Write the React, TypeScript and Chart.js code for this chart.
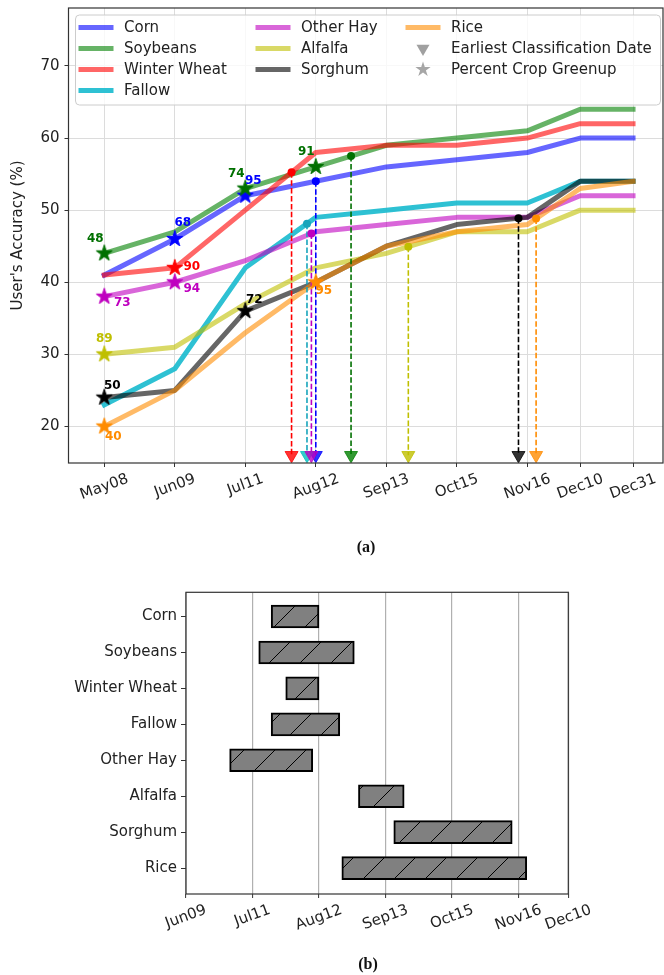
import React, { useEffect, useRef } from 'react';
import { Chart, registerables } from 'chart.js';

Chart.register(...registerables);

// Composite dates (day of year) and their axis labels
const COMPOSITE_DAYS = [128, 160, 192, 224, 256, 288, 320, 344, 368];
const COMPOSITE_LABELS = ['May08', 'Jun09', 'Jul11', 'Aug12', 'Sep13', 'Oct15', 'Nov16', 'Dec10', 'Dec31'];
const ACCURACY_TICKS = [20, 30, 40, 50, 60, 70];

const CROPS = ['Corn', 'Soybeans', 'Winter Wheat', 'Fallow', 'Other Hay', 'Alfalfa', 'Sorghum', 'Rice'];

// User's accuracy (%) at each composite date
const CORN = [41, 46, 52, 54, 56, 57, 58, 60, 60];
const SOYBEANS = [44, 47, 53, 56, 59, 60, 61, 64, 64];
const WINTER_WHEAT = [41, 42, 50, 58, 59, 59, 60, 62, 62];
const FALLOW = [23, 28, 42, 49, 50, 51, 51, 54, 54];
const OTHER_HAY = [38, 40, 43, 47, 48, 49, 49, 52, 52];
const ALFALFA = [30, 31, 37, 42, 44, 47, 47, 50, 50];
const SORGHUM = [24, 25, 36, 40, 45, 48, 49, 54, 54];
const RICE = [20, 25, 33, 40, 45, 47, 48, 53, 54];

// Percent crop greenup: [composite index, percent]
const GREENUP_CORN = [[1, 68], [2, 95]];
const GREENUP_SOYBEANS = [[0, 48], [2, 74], [3, 91]];
const GREENUP_WINTER_WHEAT = [[1, 90]];
const GREENUP_FALLOW: number[][] = [];
const GREENUP_OTHER_HAY = [[0, 73], [1, 94]];
const GREENUP_ALFALFA = [[0, 89]];
const GREENUP_SORGHUM = [[0, 50], [2, 72]];
const GREENUP_RICE = [[0, 40], [3, 95]];

// Earliest classification date (day of year) per crop
const EARLIEST_DAY = [224, 240, 213, 220, 222, 266, 316, 324];
const MARKER_BASE = 16;

// Growing-season window (day of year) per crop
const SEASON_START = [201, 195, 208, 201, 181, 243, 260, 235];
const SEASON_END = [224, 241, 224, 234, 221, 265, 317, 324];
const SEASON_TICK_DAYS = [160, 192, 224, 256, 288, 320, 344];
const SEASON_TICK_LABELS = ['Jun09', 'Jul11', 'Aug12', 'Sep13', 'Oct15', 'Nov16', 'Dec10'];

const SERIES = [CORN, SOYBEANS, WINTER_WHEAT, FALLOW, OTHER_HAY, ALFALFA, SORGHUM, RICE];
const GREENUP = [GREENUP_CORN, GREENUP_SOYBEANS, GREENUP_WINTER_WHEAT, GREENUP_FALLOW, GREENUP_OTHER_HAY, GREENUP_ALFALFA, GREENUP_SORGHUM, GREENUP_RICE];

// ---- styling ----
const LINE_COLORS = [
  'rgba(0,0,255,0.6)', 'rgba(0,128,0,0.6)', 'rgba(255,0,0,0.6)', 'rgba(23,186,206,0.9)',
  'rgba(191,0,191,0.6)', 'rgba(191,191,0,0.6)', 'rgba(0,0,0,0.6)', 'rgba(255,140,0,0.6)',
];
const MARK_COLORS = ['#0000ff', '#007000', '#ff0000', '#17a5bb', '#bf00bf', '#bfbf00', '#000000', '#ff8c00'];
const TRI_COLORS = [
  'rgba(0,0,255,0.8)', 'rgba(0,128,0,0.8)', 'rgba(255,0,0,0.8)', 'rgba(0,191,191,0.8)',
  'rgba(191,0,191,0.8)', 'rgba(191,191,0,0.8)', 'rgba(0,0,0,0.8)', 'rgba(255,140,0,0.8)',
];
// text offsets of greenup labels from their star, per crop
const LABEL_OFFSETS = [
  [[8, -16], [8, -15]],
  [[-9, -15], [-9, -15], [-9.5, -15]],
  [[17, -1]],
  [],
  [[18, 6.5], [17, 6.6]],
  [[0, -15]],
  [[8, -12], [9, -11]],
  [[9, 10], [8, 9]],
];
const SANS = '"DejaVu Sans", sans-serif';
const TEXT = '#222222';

function interp(series: number[], day: number) {
  for (let i = 0; i < COMPOSITE_DAYS.length - 1; i++) {
    const a = COMPOSITE_DAYS[i], b = COMPOSITE_DAYS[i + 1];
    if (day >= a && day <= b) return series[i] + (series[i + 1] - series[i]) * (day - a) / (b - a);
  }
  return series[series.length - 1];
}

function starPath(g: CanvasRenderingContext2D, cx: number, cy: number, R: number) {
  const r = R * 0.381;
  g.beginPath();
  for (let k = 0; k < 10; k++) {
    const rad = k % 2 === 0 ? R : r;
    const a = -Math.PI / 2 + k * Math.PI / 5;
    g.lineTo(cx + rad * Math.cos(a), cy + rad * Math.sin(a));
  }
  g.closePath();
}

function makeStar(color: string, R: number) {
  const size = Math.ceil(2 * R + 3);
  const c = document.createElement('canvas');
  c.width = size; c.height = size;
  const g = c.getContext('2d')!;
  starPath(g, size / 2, size / 2, R);
  g.fillStyle = color; g.fill();
  g.strokeStyle = color; g.lineWidth = 1; g.stroke();
  return c;
}

function makeHatch(ctx: CanvasRenderingContext2D) {
  const s = 31;
  const c = document.createElement('canvas');
  c.width = s; c.height = s;
  const g = c.getContext('2d')!;
  g.fillStyle = '#808080';
  g.fillRect(0, 0, s, s);
  g.strokeStyle = '#000';
  g.lineWidth = 1;
  g.beginPath();
  g.moveTo(-2, s + 2); g.lineTo(s + 2, -2);
  g.moveTo(-2, 2); g.lineTo(2, -2);
  g.moveTo(s - 2, s + 2); g.lineTo(s + 2, s - 2);
  g.stroke();
  return ctx.createPattern(c, 'repeat')!;
}

function drawRotatedTicks(chart: any, days: number[], labels: string[]) {
  const { ctx, chartArea } = chart;
  const x = chart.scales.x;
  const ang = 20 * Math.PI / 180;
  ctx.save();
  ctx.font = `15px ${SANS}`;
  ctx.fillStyle = TEXT;
  ctx.textAlign = 'center';
  ctx.textBaseline = 'middle';
  days.forEach((d, i) => {
    const px = x.getPixelForValue(d);
    const w = ctx.measureText(labels[i]).width;
    const H = w * Math.sin(ang) + 17 * Math.cos(ang);
    ctx.save();
    ctx.translate(px, chartArea.bottom + 7.5 + H / 2);
    ctx.rotate(-ang);
    ctx.fillText(labels[i], 0, 0);
    ctx.restore();
  });
  ctx.restore();
}

function drawFrame(chart: any) {
  const { ctx, chartArea: a } = chart;
  ctx.save();
  ctx.strokeStyle = '#333333';
  ctx.lineWidth = 1.2;
  ctx.strokeRect(a.left, a.top, a.right - a.left, a.bottom - a.top);
  ctx.restore();
}

function drawCaption(chart: any, text: string, x: number, y: number) {
  const ctx = chart.ctx;
  ctx.save();
  ctx.font = 'bold 16px "Liberation Serif", serif';
  ctx.fillStyle = '#111';
  ctx.textAlign = 'center';
  ctx.textBaseline = 'middle';
  ctx.fillText(text, x, y);
  ctx.restore();
}

const accuracyDecor = {
  id: 'accuracyDecor',
  afterDatasetsDraw(chart: any) {
    const ctx = chart.ctx;
    // greenup percent labels
    ctx.save();
    ctx.font = `bold 12px ${SANS}`;
    ctx.textAlign = 'center';
    ctx.textBaseline = 'middle';
    chart.data.datasets.forEach((ds: any, di: number) => {
      if (ds.greenupCrop === undefined) return;
      const crop = ds.greenupCrop;
      const meta = chart.getDatasetMeta(di);
      ctx.fillStyle = MARK_COLORS[crop];
      meta.data.forEach((pt: any, k: number) => {
        const [dx, dy] = LABEL_OFFSETS[crop][k];
        ctx.fillText(String(GREENUP[crop][k][1]), pt.x + dx, pt.y + dy);
      });
    });
    ctx.restore();
    drawFrame(chart);
  },
  afterDraw(chart: any) {
    const ctx = chart.ctx;
    drawRotatedTicks(chart, COMPOSITE_DAYS, COMPOSITE_LABELS);

    // y-axis title
    const a = chart.chartArea;
    ctx.save();
    ctx.font = `15px ${SANS}`;
    ctx.fillStyle = TEXT;
    ctx.textAlign = 'center';
    ctx.textBaseline = 'middle';
    ctx.translate(18, (a.top + a.bottom) / 2);
    ctx.rotate(-Math.PI / 2);
    ctx.fillText("User's Accuracy (%)", 0, 0);
    ctx.restore();

    // legend
    ctx.save();
    const bx = 75.5, by = 15, bw = 585, bh = 90;
    ctx.beginPath();
    ctx.roundRect(bx, by, bw, bh, 4);
    ctx.fillStyle = 'rgba(255,255,255,0.8)';
    ctx.fill();
    ctx.strokeStyle = '#cccccc';
    ctx.lineWidth = 1;
    ctx.stroke();
    const cols = [[0, 1, 2, 3], [4, 5, 6], [7, 'ecd', 'greenup']];
    const colX = [78.5, 255.5, 405.5];
    const rowY = [27.5, 48.5, 69.5, 90.5];
    ctx.font = `15px ${SANS}`;
    ctx.textBaseline = 'middle';
    ctx.textAlign = 'left';
    cols.forEach((col, ci) => {
      col.forEach((entry, ri) => {
        const x0 = colX[ci], y = rowY[ri];
        let label = '';
        if (typeof entry === 'number') {
          ctx.strokeStyle = LINE_COLORS[entry];
          ctx.lineWidth = 5;
          ctx.beginPath(); ctx.moveTo(x0, y); ctx.lineTo(x0 + 35, y); ctx.stroke();
          label = CROPS[entry];
        } else if (entry === 'ecd') {
          const cx = x0 + 17.5, r = 7.5;
          ctx.fillStyle = 'rgba(128,128,128,0.75)';
          ctx.beginPath();
          ctx.moveTo(cx, y + r);
          ctx.lineTo(cx - r * 0.866, y - r / 2);
          ctx.lineTo(cx + r * 0.866, y - r / 2);
          ctx.closePath(); ctx.fill();
          label = 'Earliest Classification Date';
        } else {
          ctx.fillStyle = 'rgba(128,128,128,0.7)';
          starPath(ctx, x0 + 17.5, y, 8);
          ctx.fill();
          label = 'Percent Crop Greenup';
        }
        ctx.fillStyle = TEXT;
        ctx.fillText(label, x0 + 45.5, y + 0.5);
      });
    });
    ctx.restore();

    drawCaption(chart, '(a)', 366, 548);
  },
};

const seasonDecor = {
  id: 'seasonDecor',
  afterDraw(chart: any) {
    drawFrame(chart);
    drawRotatedTicks(chart, SEASON_TICK_DAYS, SEASON_TICK_LABELS);
    drawCaption(chart, '(b)', 368, 405);
  },
};

// pin axis box sizes so the plot area lands exactly inside the layout padding
function fixedWidth(w: number) {
  return (scale: any) => {
    scale.width = w;
    scale.paddingTop = 0; scale.paddingBottom = 0;
  };
}
function fixedHeight(h: number) {
  return (scale: any) => {
    scale.height = h;
    scale.paddingLeft = 0; scale.paddingRight = 0;
  };
}

export default function App() {
  const topRef = useRef<HTMLCanvasElement>(null);
  const bottomRef = useRef<HTMLCanvasElement>(null);

  useEffect(() => {
    const datasets: any[] = [];
    SERIES.forEach((s, i) => {
      datasets.push({
        type: 'line',
        data: s.map((v, k) => ({ x: COMPOSITE_DAYS[k], y: v })),
        borderColor: LINE_COLORS[i],
        borderWidth: 5,
        pointRadius: 0,
        tension: 0,
        borderJoinStyle: 'round',
        borderCapStyle: 'square',
        order: 100 - i,
      });
    });
    SERIES.forEach((s, i) => {
      const day = EARLIEST_DAY[i];
      const y = interp(s, day);
      datasets.push({
        type: 'line',
        data: [{ x: day, y }, { x: day, y: MARKER_BASE }],
        borderColor: MARK_COLORS[i],
        borderWidth: 1.6,
        borderDash: [5.5, 2.4],
        pointRadius: 0,
        order: 60 - i,
      });
      datasets.push({
        type: 'line',
        showLine: false,
        data: [{ x: day, y }],
        pointRadius: 4,
        pointBackgroundColor: MARK_COLORS[i],
        pointBorderColor: MARK_COLORS[i],
        pointBorderWidth: 0,
        order: 40 - i,
      });
      datasets.push({
        type: 'line',
        showLine: false,
        data: [{ x: day, y: MARKER_BASE }],
        pointStyle: 'triangle',
        pointRotation: 180,
        pointRadius: 7.5,
        pointBackgroundColor: TRI_COLORS[i],
        pointBorderColor: TRI_COLORS[i],
        pointBorderWidth: 1,
        order: 30 - i,
      });
    });
    GREENUP.forEach((g, i) => {
      if (!g.length) return;
      datasets.push({
        type: 'line',
        showLine: false,
        greenupCrop: i,
        data: g.map(([k]) => ({ x: COMPOSITE_DAYS[k], y: SERIES[i][k] })),
        pointStyle: makeStar(MARK_COLORS[i], 8.5),
        pointRadius: 8,
        order: 10 - i,
      });
    });

    const top = new Chart(topRef.current!, {
      type: 'line',
      data: { datasets },
      plugins: [accuracyDecor],
      options: {
        animation: false,
        responsive: false,
        devicePixelRatio: 1,
        layout: { autoPadding: false, padding: { left: 0, top: 8, right: 1, bottom: 77 } },
        plugins: { legend: { display: false }, tooltip: { enabled: false } },
        scales: {
          x: {
            type: 'linear',
            min: 111.75,
            max: 381.6,
            offset: false,
            afterBuildTicks: (sc: any) => { sc.ticks = COMPOSITE_DAYS.map((v) => ({ value: v })); },
            afterFit: fixedHeight(20),
            ticks: { display: false },
            border: { display: false },
            grid: { color: '#dcdcdc', lineWidth: 1, tickLength: 4, tickColor: '#333', tickWidth: 1 },
          },
          y: {
            type: 'linear',
            min: 14.93,
            max: 78.04,
            afterBuildTicks: (sc: any) => { sc.ticks = ACCURACY_TICKS.map((v) => ({ value: v })); },
            afterFit: fixedWidth(68.5),
            ticks: { font: { family: SANS, size: 15 }, color: TEXT, padding: 5 },
            border: { display: false },
            grid: { color: '#dcdcdc', lineWidth: 1, tickLength: 4, tickColor: '#333', tickWidth: 1 },
          },
        },
      } as any,
    });

    const bctx = bottomRef.current!.getContext('2d')!;
    const hatch = makeHatch(bctx);
    const bottom = new Chart(bottomRef.current!, {
      type: 'bar',
      data: {
        datasets: [{
          data: CROPS.map((_, i) => ({ x: [SEASON_START[i], SEASON_END[i]], y: i })),
          backgroundColor: hatch,
          borderColor: '#000',
          borderWidth: 2,
          borderSkipped: false,
          barThickness: 23,
        }],
      },
      plugins: [seasonDecor],
      options: {
        animation: false,
        responsive: false,
        devicePixelRatio: 1,
        indexAxis: 'y',
        layout: { autoPadding: false, padding: { left: 0, top: 32.3, right: 95.7, bottom: 61 } },
        plugins: { legend: { display: false }, tooltip: { enabled: false } },
        scales: {
          x: {
            type: 'linear',
            min: 160,
            max: 344,
            offset: false,
            afterBuildTicks: (sc: any) => { sc.ticks = SEASON_TICK_DAYS.map((v) => ({ value: v })); },
            afterFit: fixedHeight(20),
            ticks: { display: false },
            border: { display: false },
            grid: { offset: false, color: '#b0b0b0', lineWidth: 1.2, tickLength: 4, tickColor: '#333', tickWidth: 1 },
          },
          y: {
            type: 'linear',
            min: -0.674,
            max: 7.72,
            reverse: true,
            offset: false,
            afterBuildTicks: (sc: any) => { sc.ticks = CROPS.map((_, i) => ({ value: i })); },
            afterFit: fixedWidth(186),
            ticks: {
              font: { family: SANS, size: 15 },
              color: TEXT,
              padding: 4,
              callback: (v: any) => CROPS[v],
            },
            border: { display: false },
            grid: { offset: false, drawOnChartArea: false, tickLength: 5, tickColor: '#333', tickWidth: 1 },
          },
        },
      } as any,
    });

    return () => {
      top.destroy();
      bottom.destroy();
    };
  }, []);

  return (
    <div style={{ position: 'absolute', left: 0, top: 0, width: 664, height: 975, background: '#fff' }}>
      <canvas ref={topRef} width={664} height={560} style={{ position: 'absolute', left: 0, top: 0, width: 664, height: 560 }} />
      <canvas ref={bottomRef} width={664} height={415} style={{ position: 'absolute', left: 0, top: 560, width: 664, height: 415 }} />
    </div>
  );
}
